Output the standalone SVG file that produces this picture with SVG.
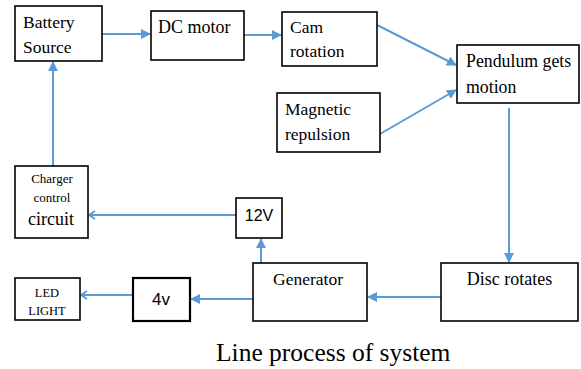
<svg xmlns="http://www.w3.org/2000/svg" width="581" height="369" viewBox="0 0 581 369">
<defs>
<style>
.box{fill:#fff;stroke:#000;stroke-width:1.6}
.thick{stroke-width:2.2}
.t{font-family:"Liberation Serif","Times New Roman",serif;fill:#000}
.s{font-family:"Liberation Sans",Arial,sans-serif;fill:#000}
.c{stroke:#5B9BD5;stroke-width:2;fill:none}
</style>
<marker id="ah" viewBox="0 0 10 10" refX="9" refY="5" markerWidth="5" markerHeight="5" orient="auto" markerUnits="strokeWidth">
<path d="M0,0 L10,5 L0,10 z" fill="#5B9BD5"/>
</marker>
</defs>
<rect width="581" height="369" fill="#fff"/>
<g id="connectors">
<line class="c" x1="102" y1="34" x2="150" y2="34" marker-end="url(#ah)"/>
<line class="c" x1="244" y1="35" x2="281" y2="35" marker-end="url(#ah)"/>
<line class="c" x1="377" y1="25" x2="456" y2="65" marker-end="url(#ah)"/>
<line class="c" x1="380" y1="134" x2="456" y2="90" marker-end="url(#ah)"/>
<line class="c" x1="509" y1="108" x2="509" y2="262" marker-end="url(#ah)"/>
<line class="c" x1="441" y1="297" x2="368" y2="297" marker-end="url(#ah)"/>
<line class="c" x1="261" y1="263" x2="261" y2="239" marker-end="url(#ah)"/>
<line class="c" x1="236" y1="215" x2="89" y2="215"/>
<line class="c" x1="53" y1="166" x2="53" y2="62" marker-end="url(#ah)"/>
<line class="c" x1="253" y1="299" x2="191" y2="299" marker-end="url(#ah)"/>
<line class="c" x1="133" y1="295" x2="81" y2="295"/>
<polyline class="c" points="87,291 81,295 87,299" stroke-width="1.6"/>
<polyline class="c" points="95,211 89,215 95,219" stroke-width="1.6"/>
</g>
<g id="battery">
<rect class="box" x="15" y="6" width="87" height="55"/>
<text class="t" x="23" y="28" style="font-size:17.5px">Battery</text>
<text class="t" x="23" y="53" style="font-size:17.5px">Source</text>
</g>
<g id="dcmotor">
<rect class="box" x="151" y="11" width="93" height="49"/>
<text class="t" x="158" y="33" style="font-size:18px">DC motor</text>
</g>
<g id="cam">
<rect class="box" x="282" y="12" width="95" height="54"/>
<text class="t" x="290" y="33" style="font-size:17.5px">Cam</text>
<text class="t" x="290" y="57" style="font-size:17.5px">rotation</text>
</g>
<g id="pendulum">
<rect class="box" x="457" y="45" width="122" height="58"/>
<text class="t" x="466" y="67" style="font-size:17.8px">Pendulum gets</text>
<text class="t" x="466" y="93" style="font-size:17.8px">motion</text>
</g>
<g id="magnetic">
<rect class="box" x="277" y="93" width="103" height="59"/>
<text class="t" x="285" y="115" style="font-size:17.5px">Magnetic</text>
<text class="t" x="285" y="140" style="font-size:17.5px">repulsion</text>
</g>
<g id="disc">
<rect class="box" x="441" y="263" width="137" height="58"/>
<text class="t" x="509.5" y="285" text-anchor="middle" style="font-size:18px">Disc rotates</text>
</g>
<g id="generator">
<rect class="box" x="253" y="263" width="114" height="58"/>
<text class="t" x="308" y="285" text-anchor="middle" style="font-size:17.5px">Generator</text>
</g>
<g id="v12">
<rect class="box" x="236" y="198" width="46" height="40"/>
<text class="s" x="259" y="221" text-anchor="middle" style="font-size:16px">12V</text>
</g>
<g id="charger">
<rect class="box" x="15" y="166" width="73" height="72"/>
<text class="t" x="52" y="183" text-anchor="middle" style="font-size:13px">Charger</text>
<text class="t" x="52" y="202" text-anchor="middle" style="font-size:13px">control</text>
<text class="t" x="51" y="225" text-anchor="middle" style="font-size:18px">circuit</text>
</g>
<g id="v4">
<rect class="box thick" x="133" y="278" width="57" height="43"/>
<text class="s" x="161" y="305" text-anchor="middle" style="font-size:17px">4v</text>
</g>
<g id="led">
<rect class="box" x="15" y="278" width="65" height="42"/>
<text class="t" x="47" y="297" text-anchor="middle" style="font-size:12.5px">LED</text>
<text class="t" x="47" y="315" text-anchor="middle" style="font-size:12.5px">LIGHT</text>
</g>
<text class="t" x="216" y="361" style="font-size:25.5px">Line process of system</text>
</svg>
